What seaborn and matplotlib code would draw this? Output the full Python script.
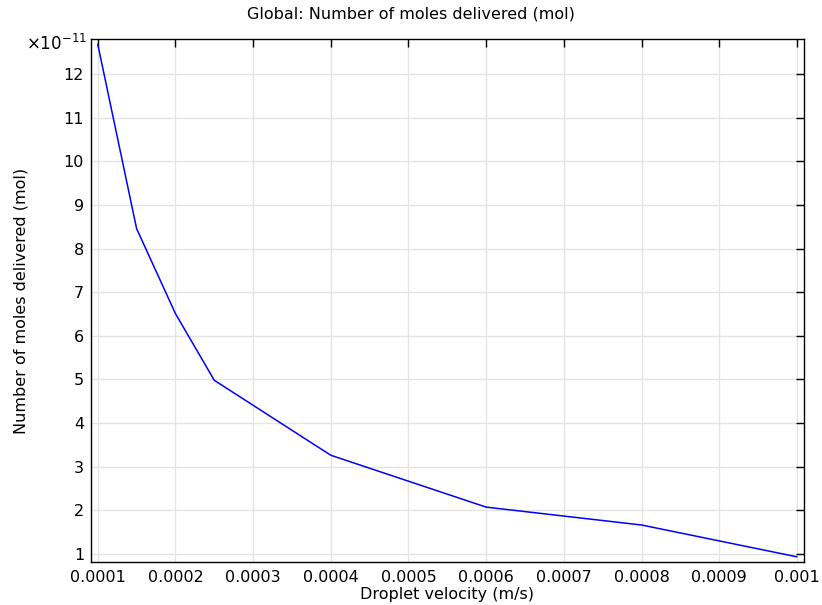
import matplotlib
matplotlib.use("Agg")
import matplotlib.pyplot as plt
import seaborn as sns
import pandas as pd
from matplotlib.ticker import FuncFormatter, FixedLocator

velocity = [0.0001, 0.00015, 0.0002, 0.00025, 0.0004, 0.0006, 0.0008, 0.001]
moles_e11 = [12.69, 8.46, 6.51, 4.98, 3.26, 2.07, 1.66, 0.93]
x_ticks = [0.0001, 0.0002, 0.0003, 0.0004, 0.0005, 0.0006, 0.0007, 0.0008, 0.0009, 0.001]
x_tick_labels = ["0.0001", "0.0002", "0.0003", "0.0004", "0.0005", "0.0006", "0.0007", "0.0008", "0.0009", "0.001"]
y_ticks_e11 = [1, 2, 3, 4, 5, 6, 7, 8, 9, 10, 11, 12]

sns.set_style("white")
plt.rcParams['font.family'] = ['DejaVu Sans']
plt.rcParams['text.color'] = 'black'
plt.rcParams['axes.labelcolor'] = 'black'

df = pd.DataFrame({"v": velocity, "n": [m * 1e-11 for m in moles_e11]})

fig = plt.figure(figsize=(8.22, 6.05), dpi=100)
ax = fig.add_axes([0.1107, 0.071, 0.978 - 0.1107, 0.9355 - 0.071])
sns.lineplot(data=df, x="v", y="n", ax=ax, color=(0, 0, 1), linewidth=1.1)

ax.set_xlim(0.0000913, 0.001009)
ax.set_ylim(0.81e-11, 12.81e-11)
ax.xaxis.set_major_locator(FixedLocator(x_ticks))
ax.set_xticklabels(x_tick_labels)
ax.yaxis.set_major_locator(FixedLocator([t * 1e-11 for t in y_ticks_e11]))
ax.yaxis.set_major_formatter(FuncFormatter(lambda v, p: f"{round(v / 1e-11):d}"))

ax.grid(True, color="#e4e4e4", linewidth=1.0)
ax.set_axisbelow(True)
for s in ax.spines.values():
    s.set_color("black")
    s.set_linewidth(1.0)
ax.tick_params(direction="in", length=6, width=1.0, top=True, right=True,
               labelsize=11.5, colors="black", pad=5)
ax.tick_params(axis="x", pad=6)

ax.set_xlabel("Droplet velocity (m/s)", fontsize=11.5, labelpad=1, color="black")
ax.set_ylabel("Number of moles delivered (mol)", fontsize=11.5, labelpad=25, color="black")
fig.text(0.5, 0.977, "Global: Number of moles delivered (mol)", ha="center", va="center",
         fontsize=11.5, color="black")
fig.text(0.105, 0.928, r"$\times10^{-11}$", ha="right", va="center", fontsize=12, color="black")

fig.savefig("out.png", dpi=100)
